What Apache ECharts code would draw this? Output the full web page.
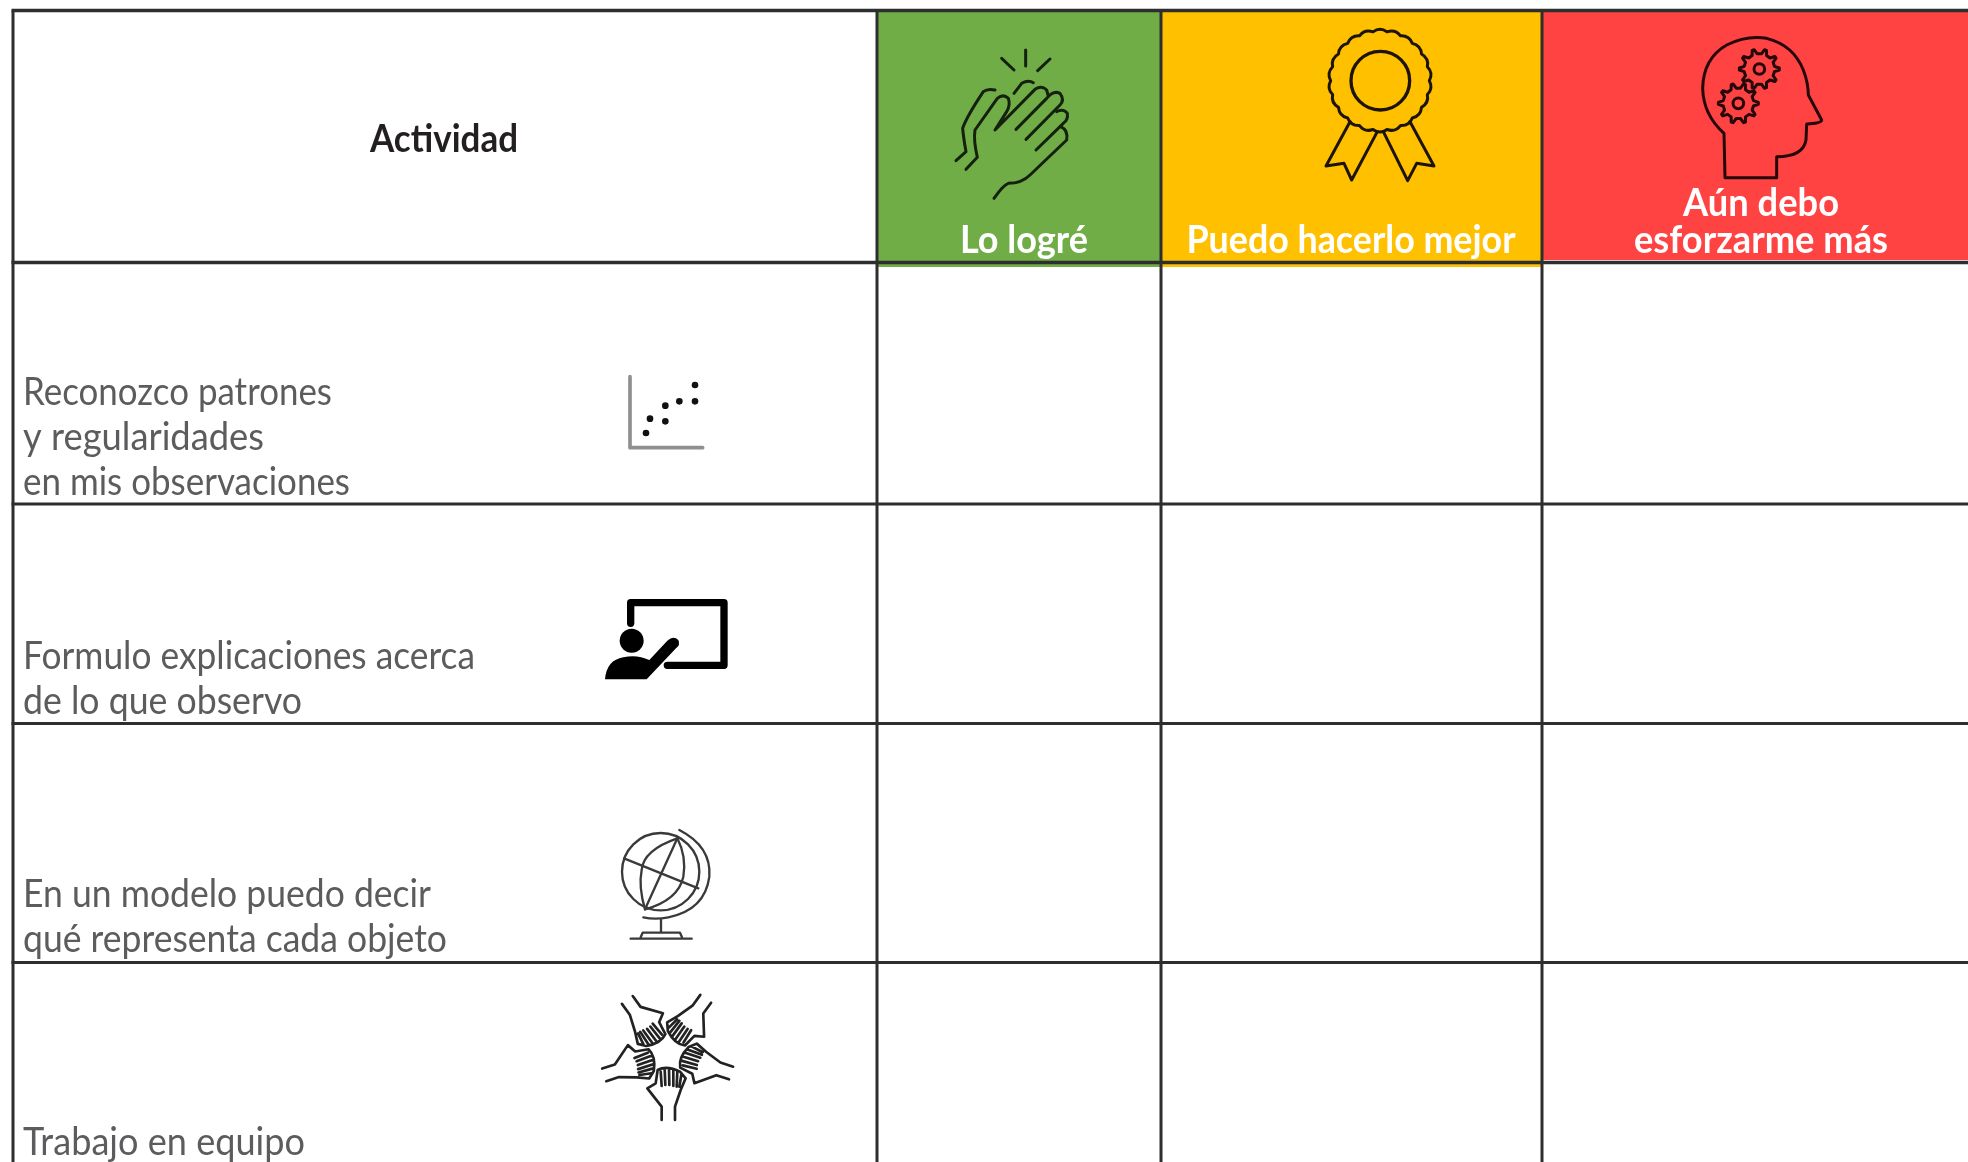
<!DOCTYPE html>
<html lang="es">
<head>
    <meta charset="utf-8" />
    <title>Actividad</title>
    <script src="https://cdn.jsdelivr.net/npm/echarts@6/dist/echarts.min.js"></script>
    <style>
        html, body { margin: 0; padding: 0; background: #fff; }
    </style>
</head>
<body>
    <div id="main" style="width:1968px;height:1162px;"></div>
    <script>
        // table text
        const encabezado = 'Actividad';
        const niveles = [['Lo logré'], ['Puedo hacerlo mejor'], ['Aún debo', 'esforzarme más']];
        const actividades = [
            ['Reconozco patrones', 'y regularidades', 'en mis observaciones'],
            ['Formulo explicaciones acerca', 'de lo que observo'],
            ['En un modelo puedo decir', 'qué representa cada objeto'],
            ['Trabajo en equipo']
        ];

        // layout, in page pixels
        const colX = [13, 877, 1161, 1542, 1968];
        const rowY = [10.5, 262.5, 504, 723.5, 962.5, 1162];
        const fills = [
            { x0: 877, x1: 1161, y0: 10, y1: 267, color: '#70AD47' },
            { x0: 1161, x1: 1542, y0: 10, y1: 267, color: '#FFC000' },
            { x0: 1542, x1: 1968, y0: 10, y1: 260, color: '#FF4343' }
        ];
        const BODY_FONT = '400 39px Lato';
        const HEAD_FONT = '700 39px Lato';
        const BODY_COLOR = '#5c5c5e';
        const TEXT_DROP = 9; // text is anchored by its bottom edge, this puts it on the baseline
        // x, baseline, width of each line
        const actividadPos = [
            [[23, 403, 309], [23, 448, 241], [23, 493, 327]],
            [[23, 667, 452], [23, 712, 279]],
            [[23, 905, 408], [23, 950, 424]],
            [[23, 1153, 282]]
        ];
        // center x, baseline, width of each line
        const nivelPos = [
            [[1024, 250.5, 128]],
            [[1351, 250.5, 329]],
            [[1761, 213.5, 156], [1761, 250.5, 254]]
        ];
        const encabezadoPos = [444, 150, 148];

        function scallop(cx, cy, r, bump, n) {
            let d = '';
            for (let i = 0; i < n; i++) {
                const a0 = i / n * Math.PI * 2, a1 = (i + 1) / n * Math.PI * 2, am = (a0 + a1) / 2;
                if (i === 0) d += 'M' + (cx + r * Math.cos(a0)) + ' ' + (cy + r * Math.sin(a0));
                d += 'Q' + (cx + (r + bump) * Math.cos(am)) + ' ' + (cy + (r + bump) * Math.sin(am)) + ' ' + (cx + r * Math.cos(a1)) + ' ' + (cy + r * Math.sin(a1));
            }
            return d + 'Z';
        }
        function gear(cx, cy, rOut, rIn, n) {
            let d = '';
            for (let i = 0; i < n; i++) {
                const a = i / n * Math.PI * 2, w = Math.PI * 2 / n;
                const pts = [[rIn, a - w * 0.28], [rOut, a - w * 0.08], [rOut, a + w * 0.08], [rIn, a + w * 0.28]];
                pts.forEach(function (p, j) {
                    d += (i === 0 && j === 0 ? 'M' : 'L') + (cx + p[0] * Math.cos(p[1])) + ' ' + (cy + p[0] * Math.sin(p[1]));
                });
            }
            return d + 'Z';
        }
        function circle(cx, cy, r) {
            return 'M' + (cx - r) + ' ' + cy + 'A' + r + ' ' + r + ' 0 1 1 ' + (cx + r) + ' ' + cy + 'A' + r + ' ' + r + ' 0 1 1 ' + (cx - r) + ' ' + cy + 'Z';
        }

        // icons are traced in the 3x zoom coordinates, origin is the crop corner
        const INK = '#14210e';
        const iconos = [
            { origin: [940, 40], parts: [
                { d: 'M185 55L222 90M257 30L257 78M330 57L293 92', stroke: INK, lw: 9 },
                { d: 'M48 362L78 335Q70 290 68 265Q80 230 130 155Q142 145 165 150', stroke: INK, lw: 9 },
                { d: 'M78 388L112 352Q100 300 105 270L172 175Q190 160 205 175Q212 195 200 215L165 270L285 148Q305 135 320 150L324 165', stroke: INK, lw: 9 },
                { d: 'M222 160L245 130Q265 118 280 128', stroke: INK, lw: 9 },
                { d: 'M228 268L320 175Q340 150 360 160Q375 180 360 195L258 298', stroke: INK, lw: 9 },
                { d: 'M350 215Q370 205 382 220Q385 240 370 250L288 330', stroke: INK, lw: 9 },
                { d: 'M362 260Q385 270 380 300L270 405Q245 430 205 430Q190 435 162 475', stroke: INK, lw: 9 }
            ] },
            { origin: [1300, 20], parts: [
                { d: scallop(240, 182, 148, 14, 22), stroke: '#1c1400', lw: 9 },
                { d: circle(241, 182, 88), stroke: '#1c1400', lw: 10 },
                { d: 'M150 305L78 438L132 430L155 480L232 335', stroke: '#1c1400', lw: 9 },
                { d: 'M330 305L402 438L350 430L323 482L250 335', stroke: '#1c1400', lw: 9 }
            ] },
            { origin: [1680, 25], parts: [
                { d: 'M135 458L132 325Q70 270 68 190Q70 100 140 60Q200 30 260 40Q340 60 370 135Q385 175 385 210L425 285Q425 295 380 297L378 345Q370 395 290 395L290 458Z', stroke: '#25080a', lw: 9 },
                { d: gear(238, 132, 60, 46, 10), stroke: '#25080a', lw: 9 },
                { d: circle(238, 132, 16), stroke: '#25080a', lw: 9 },
                { d: gear(175, 235, 60, 46, 10), stroke: '#25080a', lw: 9 },
                { d: circle(175, 235, 16), stroke: '#25080a', lw: 9 }
            ] },
            { origin: [610, 365], parts: [
                { d: 'M60 35L60 248L278 248', stroke: '#8f8f8f', lw: 11 },
                { d: circle(108, 204, 10) + circle(120, 161, 10) + circle(166, 169, 10) + circle(166, 122, 10) + circle(208, 109, 10) + circle(255, 109, 10) + circle(255, 60, 10), fill: '#111' }
            ] },
            { origin: [590, 580], parts: [
                { d: 'M122 130L122 68L402 68L402 256L232 256', stroke: '#000', lw: 22 },
                { d: circle(125, 182, 36), fill: '#000' },
                { d: 'M45 298Q50 240 100 232Q140 222 178 240L232 182Q250 165 265 180Q272 195 258 205L170 298Z', fill: '#000' }
            ] },
            { origin: [600, 820], parts: [
                { d: circle(182, 155, 116), stroke: '#3a3a3a', lw: 7 },
                { d: 'M238 30Q335 80 328 170Q315 270 205 292Q165 300 130 292', stroke: '#3a3a3a', lw: 7 },
                { d: 'M232 55L135 268M72 115L295 205', stroke: '#3a3a3a', lw: 7 },
                { d: 'M232 55Q130 90 125 150Q115 200 135 268M232 55Q260 110 250 170Q235 240 135 268', stroke: '#3a3a3a', lw: 7 },
                { d: 'M183 300L183 338M122 352L128 338L240 338L246 352M92 356L275 356', stroke: '#3a3a3a', lw: 7 }
            ] },
            // five copies of one hand around the middle
            { origin: [590, 990], parts: [0, 1, 2, 3, 4].map(function (k) {
                return {
                    d: 'M215 390L215 350L172 295L197 280L203 240Q230 225 270 245L287 265L272 300L255 350L255 390M212 245L215 288M224 236L226 285M237 234L238 285M250 238L250 288M262 244L260 290M274 254L268 290',
                    stroke: '#222', lw: 8, rotation: k * Math.PI * 2 / 5, pivot: [232, 190]
                };
            }) }
        ];

        const textWidthCtx = document.createElement('canvas').getContext('2d');
        function fitScale(text, font, width) {
            textWidthCtx.font = font;
            return width / textWidthCtx.measureText(text).width;
        }

        // flat list of the text lines: text, x, baseline, width, font, color, align
        const lineas = [];
        lineas.push([encabezado, encabezadoPos[0], encabezadoPos[1], encabezadoPos[2], HEAD_FONT, '#231f20', 'center']);
        niveles.forEach(function (ls, i) {
            ls.forEach(function (t, j) {
                lineas.push([t, nivelPos[i][j][0], nivelPos[i][j][1], nivelPos[i][j][2], HEAD_FONT, '#ffffff', 'center']);
            });
        });
        actividades.forEach(function (ls, i) {
            ls.forEach(function (t, j) {
                lineas.push([t, actividadPos[i][j][0], actividadPos[i][j][1], actividadPos[i][j][2], BODY_FONT, BODY_COLOR, 'left']);
            });
        });

        const reglas = [];
        rowY.slice(0, 5).forEach(function (y, i) {
            reglas.push([colX[0] - 1.5, y, colX[4], y, i < 2 ? 3.5 : 3]);
        });
        colX.slice(0, 4).forEach(function (x) {
            reglas.push([x, rowY[0], x, rowY[5], 3]);
        });

        var chartDom = document.getElementById('main');
        var myChart = echarts.init(chartDom);

        var option = {
            animation: false,
            backgroundColor: '#ffffff',
            grid: { left: 0, right: 0, top: 0, bottom: 0 },
            xAxis: { type: 'value', min: 0, max: 1968, show: false },
            yAxis: { type: 'value', min: 0, max: 1162, inverse: true, show: false },
            series: [
                {
                    type: 'custom', z: 1, silent: true, clip: false,
                    data: fills.map(function (f, i) { return [i]; }),
                    renderItem: function (params, api) {
                        const f = fills[params.dataIndex];
                        const a = api.coord([f.x0, f.y0]), b = api.coord([f.x1, f.y1]);
                        return { type: 'rect', shape: { x: a[0], y: a[1], width: b[0] - a[0], height: b[1] - a[1] }, style: { fill: f.color } };
                    }
                },
                {
                    type: 'custom', z: 2, silent: true, clip: false,
                    data: reglas.map(function (r, i) { return [i]; }),
                    renderItem: function (params, api) {
                        const r = reglas[params.dataIndex];
                        const a = api.coord([r[0], r[1]]), b = api.coord([r[2], r[3]]);
                        return { type: 'line', shape: { x1: a[0], y1: a[1], x2: b[0], y2: b[1] }, style: { stroke: '#2e2e2e', lineWidth: r[4] } };
                    }
                },
                {
                    type: 'custom', z: 3, silent: true, clip: false,
                    data: iconos.map(function (c, i) { return [i]; }),
                    renderItem: function (params, api) {
                        const ico = iconos[params.dataIndex];
                        const o = api.coord(ico.origin);
                        return {
                            type: 'group', x: o[0], y: o[1], scaleX: 1 / 3, scaleY: 1 / 3,
                            children: ico.parts.map(function (p) {
                                const el = {
                                    type: 'path',
                                    shape: { pathData: p.d },
                                    style: { fill: p.fill || 'none', stroke: p.stroke || 'none', lineWidth: p.lw || 0, lineJoin: 'round', lineCap: 'round' }
                                };
                                if (p.pivot) {
                                    el.rotation = p.rotation;
                                    el.originX = p.pivot[0];
                                    el.originY = p.pivot[1];
                                }
                                return el;
                            })
                        };
                    }
                },
                {
                    type: 'custom', z: 4, silent: true, clip: false,
                    data: lineas.map(function (l, i) { return [i]; }),
                    renderItem: function (params, api) {
                        const l = lineas[params.dataIndex];
                        const p = api.coord([l[1], l[2] + TEXT_DROP]);
                        return {
                            type: 'text', x: p[0], y: p[1], scaleX: fitScale(l[0], l[4], l[3]),
                            style: { text: l[0], x: 0, y: 0, font: l[4], fill: l[5], textAlign: l[6], textVerticalAlign: 'bottom', verticalAlign: 'bottom' }
                        };
                    }
                }
            ]
        };

        option && myChart.setOption(option);
    </script>
</body>
</html>
